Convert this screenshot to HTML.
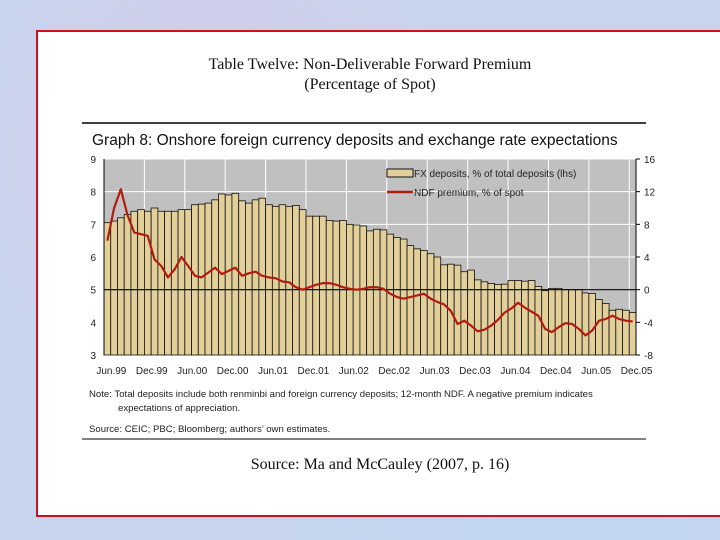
<!DOCTYPE html>
<html><head><meta charset="utf-8"><style>
body{margin:0;width:720px;height:540px;overflow:hidden;background:#c9d6ee;position:relative;font-family:"Liberation Sans",sans-serif}
#bg{position:absolute;left:0;top:0;width:720px;height:540px;background:radial-gradient(circle at 30% 30%,#d8c8e6 0,transparent 40%),radial-gradient(circle at 80% 80%,#c0d8f0 0,transparent 50%),#c8d4ee}
#frame{position:absolute;left:36px;top:30px;width:690px;height:483px;background:#fff;border:2px solid #d0101c}
.t{position:absolute;font-family:"Liberation Serif",serif;font-size:16px;color:#111;text-align:center}
</style></head><body>
<div id="bg"></div>
<div id="frame"></div>
<div class="t" style="left:140px;top:56px;width:460px">Table Twelve: Non-Deliverable Forward Premium</div>
<div class="t" style="left:140px;top:76px;width:460px">(Percentage of Spot)</div>
<div class="t" style="left:200px;top:456px;width:360px">Source: Ma and McCauley (2007, p. 16)</div>
<svg id="chart" width="720" height="540" style="position:absolute;left:0;top:0"></svg>
<script>
const dates=["Jun.99","Dec.99","Jun.00","Dec.00","Jun.01","Dec.01","Jun.02","Dec.02","Jun.03","Dec.03","Jun.04","Dec.04","Jun.05","Dec.05"];
const fxDeposits=[7.05,7.1,7.2,7.3,7.4,7.45,7.4,7.5,7.4,7.4,7.4,7.45,7.45,7.6,7.62,7.65,7.75,7.93,7.9,7.95,7.72,7.65,7.75,7.8,7.6,7.55,7.6,7.55,7.58,7.45,7.25,7.25,7.25,7.12,7.1,7.12,7.0,6.98,6.95,6.8,6.85,6.83,6.7,6.6,6.55,6.35,6.25,6.2,6.1,6.0,5.76,5.78,5.75,5.55,5.6,5.3,5.24,5.19,5.16,5.17,5.28,5.28,5.26,5.28,5.1,4.97,5.04,5.04,5.0,5.0,5.0,4.9,4.88,4.7,4.58,4.37,4.4,4.37,4.3];
const ndfPremium=[6.0,10,12.3,9.1,7.0,6.8,6.6,3.7,2.9,1.5,2.5,4.0,2.9,1.7,1.5,2.1,2.7,1.9,2.3,2.7,1.7,2.0,2.2,1.7,1.5,1.4,1.0,0.9,0.3,0,0.3,0.6,0.8,0.8,0.6,0.3,0.1,0,0.1,0.3,0.3,0.1,-0.5,-0.9,-1.1,-0.9,-0.7,-0.5,-1.1,-1.5,-1.8,-2.6,-4.2,-3.8,-4.4,-5.1,-4.9,-4.4,-3.7,-2.8,-2.3,-1.6,-2.2,-2.7,-3.2,-4.8,-5.2,-4.6,-4.1,-4.2,-4.8,-5.6,-5.0,-3.8,-3.6,-3.2,-3.6,-3.8,-3.9];
const leftTicks=[3,4,5,6,7,8,9];
const rightTicks=[-8,-4,0,4,8,12,16];
const X0=104,X1=636,Y9=159,Y3=355,n=fxDeposits.length,bw=(X1-X0)/n;
const yL=v=>Y3-(v-3)*(Y3-Y9)/6;
const yR=v=>Y3-(v+8)*(Y3-Y9)/24;
const xi=i=>X0+bw*i;
const svg=document.getElementById('chart');const NS='http://www.w3.org/2000/svg';
function mk(t,a,p){const e=document.createElementNS(NS,t);for(const k in a)e.setAttribute(k,a[k]);(p||svg).appendChild(e);return e;}
let e;
e=mk('rect',{x:82,y:122,width:564,height:318,fill:'#fff'});


mk('line',{x1:82,y1:123,x2:646,y2:123,stroke:'#000','stroke-width':1.5});
mk('line',{x1:82,y1:439,x2:646,y2:439,stroke:'#000','stroke-width':1});
e=mk('text',{x:92,y:145,'font-size':15.5,fill:'#111'});e.textContent='Graph 8: Onshore foreign currency deposits and exchange rate expectations';


e=mk('rect',{x:X0,y:Y9,width:X1-X0,height:Y3-Y9,fill:'#c0c0c0'});


leftTicks.forEach(v=>{mk('line',{x1:X0,y1:yL(v),x2:X1,y2:yL(v),stroke:'#fff','stroke-width':1});
 e=mk('text',{x:X0-8,y:yL(v)+4,'font-size':10,'text-anchor':'end',fill:'#222'});e.textContent=v;
 
 });
rightTicks.forEach(v=>{mk('line',{x1:X1,y1:yR(v),x2:X1+4,y2:yR(v),stroke:'#000'});
 e=mk('text',{x:X1+8,y:yR(v)+4,'font-size':10,fill:'#222'});e.textContent=v;
 
 });
dates.forEach((d,k)=>{const x=xi(6*k);if(k>0)mk('line',{x1:x,y1:Y9,x2:x,y2:Y3,stroke:'#fff'});
 e=mk('text',{x:x+bw/2+4,y:Y3+19,'font-size':10,'text-anchor':'middle',fill:'#222'});e.textContent=d;
 
 });
fxDeposits.forEach((v,i)=>{e=mk('rect',{x:xi(i),y:yL(v),width:bw,height:Y3-yL(v),fill:'#e2cf9a',stroke:'#111','stroke-width':0.8});
 
 });
mk('line',{x1:X0,y1:yR(0),x2:X1,y2:yR(0),stroke:'#000','stroke-width':1.2});
mk('line',{x1:X0,y1:Y9,x2:X0,y2:Y3,stroke:'#000'});
mk('line',{x1:X1,y1:Y9,x2:X1,y2:Y3,stroke:'#000'});
e=mk('polyline',{points:ndfPremium.map((v,i)=>(xi(i)+bw/2)+','+yR(v)).join(' '),fill:'none',stroke:'#b01c10','stroke-width':2.2,'stroke-linejoin':'round'});


e=mk('rect',{x:387,y:169,width:26,height:8,fill:'#e2cf9a',stroke:'#111'});


e=mk('text',{x:414,y:177,'font-size':10,fill:'#222'});e.textContent='FX deposits, % of total deposits (lhs)';


e=mk('line',{x1:387,y1:192,x2:413,y2:192,stroke:'#b01c10','stroke-width':2.5});


e=mk('text',{x:414,y:196,'font-size':10,fill:'#222'});e.textContent='NDF premium, % of spot';


[['Note: Total deposits include both renminbi and foreign currency deposits; 12-month NDF. A negative premium indicates',89,397],['expectations of appreciation.',118,411],['Source: CEIC; PBC; Bloomberg; authors\u2019 own estimates.',89,432]].forEach(a=>{
 e=mk('text',{x:a[1],y:a[2],'font-size':9.6,fill:'#222'});e.textContent=a[0];
 
 });
</script>
</body></html>
